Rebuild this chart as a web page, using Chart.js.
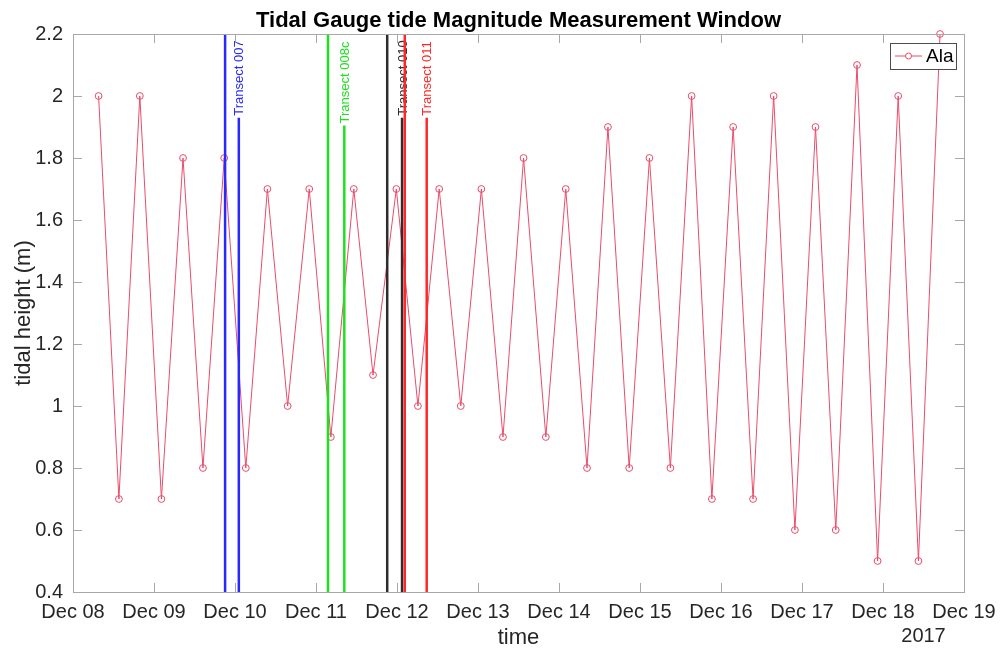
<!DOCTYPE html>
<html>
<head>
<meta charset="utf-8">
<title>Tidal Gauge tide Magnitude Measurement Window</title>
<script src="https://cdn.jsdelivr.net/npm/chart.js@4.4.1/dist/chart.umd.min.js"></script>
<style>
  html, body { margin: 0; padding: 0; background: #fff; }
</style>
</head>
<body>
<canvas id="chart" width="1001" height="650"></canvas>
<script>
// tide gauge readings (UTC) and heights in metres
const tideTimes = [
  '2017-12-08T07:35', '2017-12-08T13:36', '2017-12-08T19:48', '2017-12-09T02:12',
  '2017-12-09T08:36', '2017-12-09T14:30', '2017-12-09T20:48', '2017-12-10T03:12',
  '2017-12-10T09:36', '2017-12-10T15:36', '2017-12-10T22:00', '2017-12-11T04:24',
  '2017-12-11T11:12', '2017-12-11T16:54', '2017-12-11T23:48', '2017-12-12T06:12',
  '2017-12-12T12:30', '2017-12-12T18:54', '2017-12-13T01:00', '2017-12-13T07:24',
  '2017-12-13T13:30', '2017-12-13T20:06', '2017-12-14T02:00', '2017-12-14T08:18',
  '2017-12-14T14:30', '2017-12-14T20:48', '2017-12-15T02:48', '2017-12-15T09:00',
  '2017-12-15T15:18', '2017-12-15T21:18', '2017-12-16T03:36', '2017-12-16T09:30',
  '2017-12-16T15:36', '2017-12-16T21:54', '2017-12-17T04:00', '2017-12-17T10:00',
  '2017-12-17T16:18', '2017-12-17T22:24', '2017-12-18T04:30', '2017-12-18T10:30',
  '2017-12-18T16:54'
];
const tideHeights = [
  2.0, 0.7, 2.0, 0.7, 1.8, 0.8, 1.8, 0.8, 1.7, 1.0, 1.7, 0.9, 1.7, 1.1, 1.7, 1.0,
  1.7, 1.0, 1.7, 0.9, 1.8, 0.9, 1.7, 0.8, 1.9, 0.8, 1.8, 0.8, 2.0, 0.7, 1.9, 0.7,
  2.0, 0.6, 1.9, 0.6, 2.1, 0.5, 2.0, 0.5, 2.2
];

// survey windows: start and end of each transect
const transectNames = ['Transect 007', 'Transect 008c', 'Transect 010', 'Transect 011'];
const transectStart = ['2017-12-09T21:04', '2017-12-11T03:33', '2017-12-11T21:06', '2017-12-12T02:18'];
const transectEnd = ['2017-12-10T01:08', '2017-12-11T08:23', '2017-12-12T01:30', '2017-12-12T08:48'];
const transectTop = [1.93, 1.905, 1.93, 1.93];
const transectColors = ['rgb(40,40,255)', 'rgb(30,225,30)', 'rgb(45,45,45)', 'rgb(255,40,40)'];

const dayLabels = ['Dec 08', 'Dec 09', 'Dec 10', 'Dec 11', 'Dec 12', 'Dec 13',
                   'Dec 14', 'Dec 15', 'Dec 16', 'Dec 17', 'Dec 18', 'Dec 19'];
const yearLabel = '2017';
const yMin = 0.4, yMax = 2.2;

const DAY = 86400000;
const toMs = s => Date.parse(s + ':00Z');
const t0 = toMs('2017-12-08T00:00');
const t1 = t0 + (dayLabels.length - 1) * DAY;
const FONT = "'Liberation Sans', Arial, Helvetica, sans-serif";
const tideColor = 'rgb(234,76,106)';

Chart.defaults.font.family = FONT;

const datasets = [{
  label: 'Ala',
  data: tideTimes.map((t, i) => ({ x: toMs(t), y: tideHeights[i] })),
  borderColor: tideColor,
  borderWidth: 1,
  pointRadius: 3.4,
  pointBorderWidth: 1,
  pointBorderColor: tideColor,
  pointBackgroundColor: 'rgba(255,255,255,0)',
  tension: 0,
  order: 10,
  clip: 8
}];

transectNames.forEach((name, i) => {
  const s = toMs(transectStart[i]), e = toMs(transectEnd[i]);
  datasets.push({
    label: name + ' start',
    data: [{ x: s, y: yMin }, { x: s, y: yMax }],
    borderColor: transectColors[i], borderWidth: 2.5,
    pointRadius: 0, order: 8 - 2 * i
  });
  datasets.push({
    label: name,
    transect: i,
    data: [{ x: e, y: yMin }, { x: e, y: transectTop[i] }],
    borderColor: transectColors[i], borderWidth: 2.5,
    pointRadius: 0, order: 7 - 2 * i
  });
});

// axes box, inward ticks, titles, transect labels and legend
const frame = {
  id: 'frame',
  afterDatasetDraw(chart, args) {
    const ds = chart.data.datasets[args.index];
    if (ds.transect === undefined) return;
    const { ctx, scales: { x, y } } = chart;
    const i = ds.transect;
    const px = x.getPixelForValue(toMs(transectEnd[i]));
    const py = y.getPixelForValue(transectTop[i]);
    ctx.save();
    ctx.translate(px + 1, py - 2);
    ctx.rotate(-Math.PI / 2);
    ctx.font = '13px ' + FONT;
    ctx.fillStyle = transectColors[i];
    ctx.textAlign = 'left';
    ctx.textBaseline = 'middle';
    ctx.fillText(transectNames[i], 0, 0);
    ctx.restore();
  },
  afterDraw(chart) {
    const { ctx, chartArea: a, scales: { x, y } } = chart;
    ctx.save();

    ctx.strokeStyle = '#a8a8a8';
    ctx.lineWidth = 1;
    ctx.strokeRect(Math.round(a.left) + 0.5, Math.round(a.top) + 0.5,
                   Math.round(a.right - a.left), Math.round(a.bottom - a.top));
    ctx.beginPath();
    x.ticks.forEach(t => {
      const px = Math.round(x.getPixelForValue(t.value)) + 0.5;
      ctx.moveTo(px, a.bottom); ctx.lineTo(px, a.bottom - 9);
      ctx.moveTo(px, a.top); ctx.lineTo(px, a.top + 9);
    });
    y.ticks.forEach(t => {
      const py = Math.round(y.getPixelForValue(t.value)) + 0.5;
      ctx.moveTo(a.left, py); ctx.lineTo(a.left + 9, py);
      ctx.moveTo(a.right, py); ctx.lineTo(a.right - 9, py);
    });
    ctx.stroke();

    const cx = (a.left + a.right) / 2;
    ctx.fillStyle = '#000';
    ctx.font = 'bold 22px ' + FONT;
    ctx.textAlign = 'center';
    ctx.textBaseline = 'alphabetic';
    ctx.fillText('Tidal Gauge tide Magnitude Measurement Window', cx, 27);

    ctx.fillStyle = '#262626';
    ctx.font = '22px ' + FONT;
    ctx.textBaseline = 'middle';
    ctx.fillText('time', cx, 638);
    ctx.font = '20px ' + FONT;
    const yx = (x.getPixelForValue(t1 - DAY) + x.getPixelForValue(t1)) / 2;
    ctx.fillText(yearLabel, yx, 636);

    ctx.save();
    ctx.translate(24, (a.top + a.bottom) / 2);
    ctx.rotate(-Math.PI / 2);
    ctx.font = '22px ' + FONT;
    ctx.fillText('tidal height (m)', 0, 0);
    ctx.restore();

    // legend box, upper right inside the axes
    const lw = 66, lh = 26;
    const lx = Math.round(a.right) - 8 - lw, ly = Math.round(a.top) + 9;
    ctx.fillStyle = '#fff';
    ctx.fillRect(lx, ly, lw, lh);
    ctx.strokeStyle = '#4d4d4d';
    ctx.strokeRect(lx + 0.5, ly + 0.5, lw, lh);
    const my = ly + lh / 2;
    ctx.strokeStyle = tideColor;
    ctx.beginPath();
    ctx.moveTo(lx + 5, my); ctx.lineTo(lx + 32, my);
    ctx.stroke();
    ctx.beginPath();
    ctx.arc(lx + 18.5, my, 3, 0, Math.PI * 2);
    ctx.fillStyle = '#fff';
    ctx.fill();
    ctx.stroke();
    ctx.fillStyle = '#000';
    ctx.font = '19px ' + FONT;
    ctx.textAlign = 'left';
    ctx.fillText(datasets[0].label, lx + 36, my + 1);

    ctx.restore();
  }
};

new Chart(document.getElementById('chart'), {
  type: 'line',
  data: { datasets },
  options: {
    responsive: false,
    animation: false,
    events: [],
    layout: { padding: { top: 34, right: 37, left: 0, bottom: 0 } },
    plugins: { legend: { display: false }, tooltip: { enabled: false } },
    scales: {
      x: {
        type: 'linear',
        min: t0,
        max: t1,
        afterBuildTicks: s => { s.ticks = dayLabels.map((_, i) => ({ value: t0 + i * DAY })); },
        afterFit: s => { s.height = 58; },
        grid: { display: false },
        border: { display: false },
        ticks: {
          autoSkip: false, maxRotation: 0, padding: 0,
          color: '#262626', font: { size: 20 },
          callback: (v, i) => dayLabels[i]
        }
      },
      y: {
        min: yMin,
        max: yMax,
        afterFit: s => { s.width = 73; },
        grid: { display: false },
        border: { display: false },
        ticks: {
          stepSize: 0.2, padding: 2,
          color: '#262626', font: { size: 20 },
          callback: v => String(+v.toFixed(1))
        }
      }
    }
  },
  plugins: [frame]
});
</script>
</body>
</html>
